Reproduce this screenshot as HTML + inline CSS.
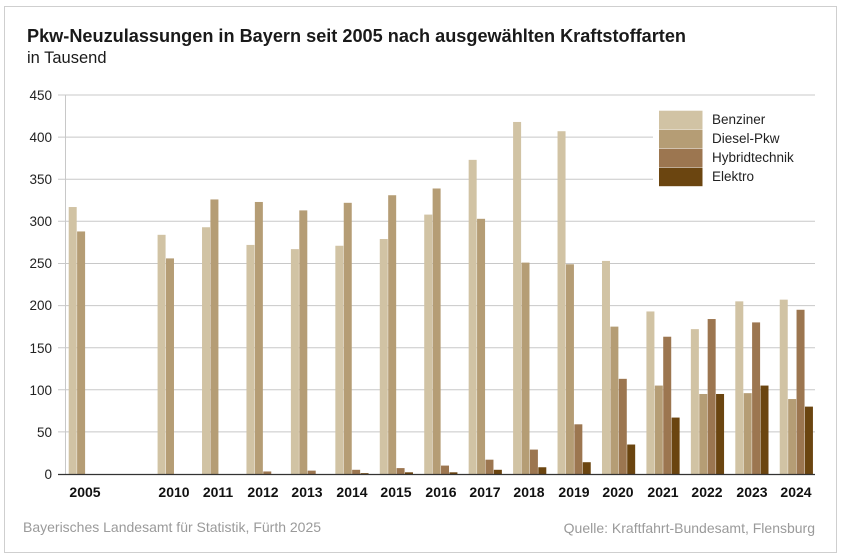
<!DOCTYPE html>
<html><head><meta charset="utf-8"><style>
html,body{margin:0;padding:0;background:#fff;width:841px;height:559px;overflow:hidden}
svg{display:block;font-family:"Liberation Sans",Arial,sans-serif}
</style></head><body>
<svg id="s" width="841" height="559" viewBox="0 0 841 559" xmlns="http://www.w3.org/2000/svg">
<rect x="4.5" y="6.5" width="832" height="546" fill="#fff" stroke="#cfcfcf" stroke-width="1"/>
<text x="27" y="42" font-size="18.2" font-weight="bold" fill="#1a1a1a" textLength="659" lengthAdjust="spacingAndGlyphs">Pkw-Neuzulassungen in Bayern seit 2005 nach ausgewählten Kraftstoffarten</text>
<text x="27" y="63" font-size="16.5" fill="#1a1a1a">in Tausend</text>
<g id="grid" stroke="#c8c8c8" stroke-width="1"></g>
<g font-size="13.5" fill="#222" text-anchor="end">
<text x="52" y="479">0</text><text x="52" y="437">50</text><text x="52" y="395">100</text><text x="52" y="353">150</text><text x="52" y="310">200</text><text x="52" y="268">250</text><text x="52" y="226">300</text><text x="52" y="184">350</text><text x="52" y="142">400</text><text x="52" y="100">450</text>
</g>
<line x1="65.5" y1="95" x2="65.5" y2="474" stroke="#c8c8c8"/>
<g id="bars"></g>
<line x1="58" y1="474.5" x2="815" y2="474.5" stroke="#333" stroke-width="1.2"/>
<g font-size="14" font-weight="bold" fill="#111" text-anchor="middle" id="lbl">
<text x="85" y="497">2005</text>
<text x="174" y="497">2010</text><text x="218" y="497">2011</text><text x="263" y="497">2012</text><text x="307" y="497">2013</text><text x="352" y="497">2014</text><text x="396" y="497">2015</text><text x="441" y="497">2016</text><text x="485" y="497">2017</text><text x="529" y="497">2018</text><text x="574" y="497">2019</text><text x="618" y="497">2020</text><text x="663" y="497">2021</text><text x="707" y="497">2022</text><text x="752" y="497">2023</text><text x="796" y="497">2024</text>
</g>
<rect x="653" y="104" width="162" height="88" fill="#fff"/>
<rect x="659" y="110.7" width="43.5" height="18.5" fill="#d1c3a4"/>
<rect x="659" y="129.7" width="43.5" height="18.5" fill="#b59d75"/>
<rect x="659" y="148.7" width="43.5" height="18.5" fill="#9c7650"/>
<rect x="659" y="167.7" width="43.5" height="18.5" fill="#6b4510"/>
<g font-size="13.5" fill="#222">
<text x="712" y="124">Benziner</text><text x="712" y="143">Diesel-Pkw</text><text x="712" y="162">Hybridtechnik</text><text x="712" y="181">Elektro</text>
</g>
<text x="23" y="532" font-size="14" fill="#9a9a9a">Bayerisches Landesamt für Statistik, Fürth 2025</text>
<text x="815" y="533" font-size="14" fill="#9a9a9a" text-anchor="end">Quelle: Kraftfahrt-Bundesamt, Flensburg</text>
</svg>
<script>
var ns="http://www.w3.org/2000/svg";
var g=document.getElementById("grid");
for(var v=50;v<=450;v+=50){var y=474-v*0.8422;var l=document.createElementNS(ns,"line");l.setAttribute("x1",58);l.setAttribute("x2",815);l.setAttribute("y1",y.toFixed(1));l.setAttribute("y2",y.toFixed(1));g.appendChild(l);}
var data={0:[317,288],2:[284,256,0,0],3:[293,326,0,0],4:[272,323,3,0],5:[267,313,4,0],6:[271,322,5,1],7:[279,331,7,2],8:[308,339,10,2],9:[373,303,17,5],10:[418,251,29,8],11:[407,249,59,14],12:[253,175,113,35],13:[193,105,163,67],14:[172,95,184,95],15:[205,96,180,105],16:[207,89,195,80]};
var cols=["#d1c3a4","#b59d75","#9c7650","#6b4510"];
var b=document.getElementById("bars");
for(var k in data){var s=68.7+44.44*k;data[k].forEach(function(v,j){if(v<=0)return;var h=v*0.8422;var r=document.createElementNS(ns,"rect");r.setAttribute("x",(s+j*8.4).toFixed(2));r.setAttribute("width",8.0);r.setAttribute("y",(474-h).toFixed(2));r.setAttribute("height",h.toFixed(2));r.setAttribute("fill",cols[j]);b.appendChild(r);});}
</script>
</body></html>
